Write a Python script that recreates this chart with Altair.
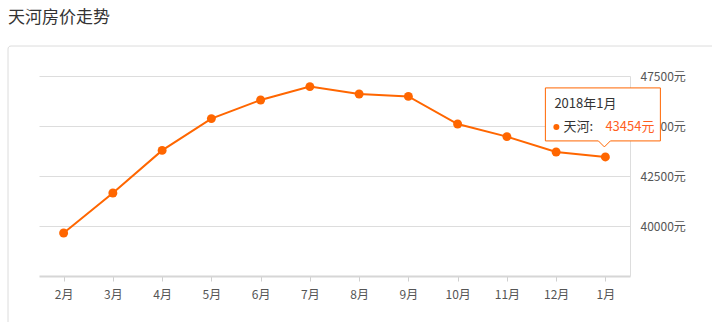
import altair as alt
import pandas as pd

months = ["2月", "3月", "4月", "5月", "6月", "7月", "8月", "9月", "10月", "11月", "12月", "1月"]
prices = [39650, 41650, 43780, 45370, 46300, 46970, 46600, 46480, 45100, 44470, 43700, 43454]
y_ticks = [40000, 42500, 45000, 47500]
title_text = "天河房价走势"
tip_title = "2018年1月"
tip_name = "天河:"
tip_value = "43454元"

ORANGE = "#FF6600"
FONT = "Noto Sans CJK SC"

df = pd.DataFrame({"month": months, "price": prices})

W, H = 591, 200
PL, PT = 39, 76

x = alt.X("month:N", sort=months, title=None,
          scale=alt.Scale(type="point", padding=0.5),
          axis=alt.Axis(orient="bottom", domainColor="#d6d6d6", domainWidth=2,
                        tickColor="#cfcfcf", tickSize=5, labelPadding=8,
                        labelColor="#555555", labelFontSize=12, labelFont=FONT,
                        labelAngle=0, grid=False))
y = alt.Y("price:Q", title=None,
          scale=alt.Scale(domain=[37500, 47500], nice=False, zero=False),
          axis=alt.Axis(orient="right", values=y_ticks, format="d",
                        labelExpr="datum.label + '元'",
                        domainColor="#dddddd", domainWidth=1, ticks=False,
                        labelPadding=10, labelColor="#555555", labelFontSize=12,
                        labelFont=FONT, gridColor="#dddddd", gridWidth=1))

base = alt.Chart(df)

line = base.mark_line(color=ORANGE, strokeWidth=2).encode(x=x, y=y)
pts = base.mark_point(filled=True, color=ORANGE, size=80, opacity=1, shape="circle").encode(x=x, y=y)

last = base.transform_filter(alt.datum.month == "1月")

tip_path = "M-60,-69 L55,-69 L55,-16 L5,-16 L-1,-10 L-7,-16 L-60,-16 Z"
tip_box = last.mark_point(shape=tip_path, size=4, filled=False, fill="white",
                          fillOpacity=1, stroke=ORANGE, strokeWidth=1, opacity=1).encode(x=x, y=y)

tip_t1 = last.mark_text(align="left", baseline="middle", dx=-51, dy=-53,
                        font=FONT, fontSize=13, color="#333333").encode(
    x=x, y=y, text=alt.value(tip_title))
tip_dot = last.mark_point(filled=True, color=ORANGE, size=36, opacity=1, shape="circle",
                          xOffset=-49, yOffset=-30).encode(x=x, y=y)
tip_t2 = last.mark_text(align="left", baseline="middle", dx=-42, dy=-30,
                        font=FONT, fontSize=13, color="#333333").encode(
    x=x, y=y, text=alt.value(tip_name))
tip_t3 = last.mark_text(align="left", baseline="middle", dx=0, dy=-30,
                        font=FONT, fontSize=13, color="#FF5F1F").encode(
    x=x, y=y, text=alt.value(tip_value))

one = alt.Data(values=[{"a": 1}])
frame = alt.Chart(one).mark_rect(fill=None, stroke="#dcdcdc", strokeWidth=1,
                                 cornerRadius=3).encode(
    x=alt.value(-31), x2=alt.value(720), y=alt.value(-30), y2=alt.value(300))
title = alt.Chart(one).mark_text(align="left", baseline="middle", font=FONT,
                                 fontSize=17, color="#333333").encode(
    x=alt.value(-31), y=alt.value(-58), text=alt.value(title_text))

chart = alt.layer(frame, title, line, pts, tip_box, tip_t1, tip_dot, tip_t2, tip_t3).properties(
    width=W, height=H,
    background="white",
    autosize=alt.AutoSizeParams(type="none"),
    padding={"left": PL, "top": PT, "right": 712 - PL - W, "bottom": 322 - PT - H},
).configure_view(strokeWidth=0, stroke=None)

chart.save("out.html", embed_options={"renderer": "svg", "actions": False})
